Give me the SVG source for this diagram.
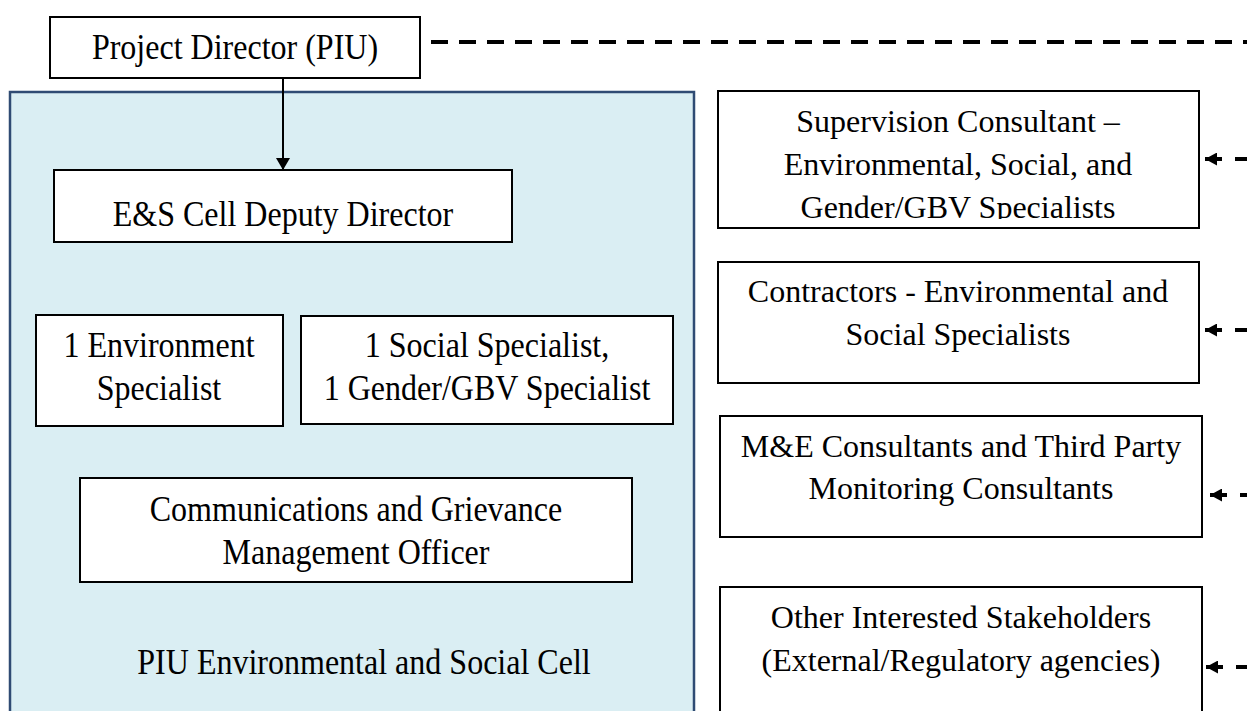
<svg xmlns="http://www.w3.org/2000/svg" width="1247" height="711" viewBox="0 0 1247 711">
  <style>
    .box { fill: #ffffff; stroke: #000000; stroke-width: 2; }
    .cell { fill: #DAEEF3; stroke: #2F4B73; stroke-width: 2.5; }
    .tl { font-family: "Liberation Serif", "Times New Roman", serif; font-size: 35px; fill: #000; text-anchor: middle; }
    .tr { font-family: "Liberation Serif", "Times New Roman", serif; font-size: 32px; fill: #000; text-anchor: middle; }
    .dash { fill: none; stroke: #000; stroke-width: 4; }
    .solid { fill: none; stroke: #000; stroke-width: 2; }
  </style>
  <defs>
    <marker id="headDown" markerUnits="userSpaceOnUse" viewBox="0 0 12 14" refX="12" refY="7" markerWidth="12" markerHeight="14" orient="auto">
      <path d="M0,0 L12,7 L0,14 Z" fill="#000"/>
    </marker>
    <marker id="headLeft" markerUnits="userSpaceOnUse" viewBox="0 0 12 13" refX="12" refY="6.5" markerWidth="12" markerHeight="13" orient="auto">
      <path d="M0,0 L12,6.5 L0,13 Z" fill="#000"/>
    </marker>
    <clipPath id="clipSup">
      <rect x="719" y="92" width="479" height="127"/>
    </clipPath>
  </defs>

  <g id="cell-container">
    <rect class="cell" x="10" y="92" width="684" height="640"/>
    <text class="tl" transform="translate(364,674) scale(0.915,1)">PIU Environmental and Social Cell</text>
  </g>

  <g id="connectors">
    <path class="solid" d="M283,78 V170" marker-end="url(#headDown)"/>
    <path class="dash" d="M431,42 H1247" stroke-dasharray="17 11"/>
    <path class="dash" d="M1260,159 H1235 M1222,159 H1205" marker-end="url(#headLeft)"/>
    <path class="dash" d="M1260,330 H1235 M1222,330 H1205" marker-end="url(#headLeft)"/>
    <path class="dash" d="M1260,495 H1240 M1227,495 H1210" marker-end="url(#headLeft)"/>
    <path class="dash" d="M1260,667 H1236 M1223,667 H1206" marker-end="url(#headLeft)"/>
  </g>

  <g id="project-director">
    <rect class="box" x="50" y="17" width="370" height="61"/>
    <text class="tl" transform="translate(235,59) scale(0.915,1)">Project Director (PIU)</text>
  </g>

  <g id="es-deputy-director">
    <rect class="box" x="54" y="170" width="458" height="72"/>
    <text class="tl" transform="translate(283,226) scale(0.915,1)">E&amp;S Cell Deputy Director</text>
  </g>

  <g id="environment-specialist">
    <rect class="box" x="36" y="315" width="247" height="111"/>
    <text class="tl" transform="translate(159,357) scale(0.915,1)">1 Environment</text>
    <text class="tl" transform="translate(159,400) scale(0.915,1)">Specialist</text>
  </g>

  <g id="social-gender-specialists">
    <rect class="box" x="301" y="316" width="372" height="108"/>
    <text class="tl" transform="translate(487,357) scale(0.915,1)">1 Social Specialist,</text>
    <text class="tl" transform="translate(487,400) scale(0.915,1)">1 Gender/GBV Specialist</text>
  </g>

  <g id="communications-grievance">
    <rect class="box" x="80" y="478" width="552" height="104"/>
    <text class="tl" transform="translate(356,521) scale(0.915,1)">Communications and Grievance</text>
    <text class="tl" transform="translate(356,564) scale(0.915,1)">Management Officer</text>
  </g>

  <g id="supervision-consultant">
    <rect class="box" x="718" y="91" width="481" height="137"/>
    <g clip-path="url(#clipSup)">
      <text class="tr" x="958" y="132">Supervision Consultant –</text>
      <text class="tr" x="958" y="175">Environmental, Social, and</text>
      <text class="tr" x="958" y="218">Gender/GBV Specialists</text>
    </g>
  </g>

  <g id="contractors">
    <rect class="box" x="718" y="262" width="481" height="121"/>
    <text class="tr" x="958" y="302">Contractors - Environmental and</text>
    <text class="tr" x="958" y="345">Social Specialists</text>
  </g>

  <g id="me-consultants">
    <rect class="box" x="720" y="416" width="482" height="121"/>
    <text class="tr" x="961" y="457">M&amp;E Consultants and Third Party</text>
    <text class="tr" x="961" y="499">Monitoring Consultants</text>
  </g>

  <g id="other-stakeholders">
    <rect class="box" x="720" y="587" width="482" height="150"/>
    <text class="tr" x="961" y="628">Other Interested Stakeholders</text>
    <text class="tr" x="961" y="671">(External/Regulatory agencies)</text>
  </g>
</svg>
